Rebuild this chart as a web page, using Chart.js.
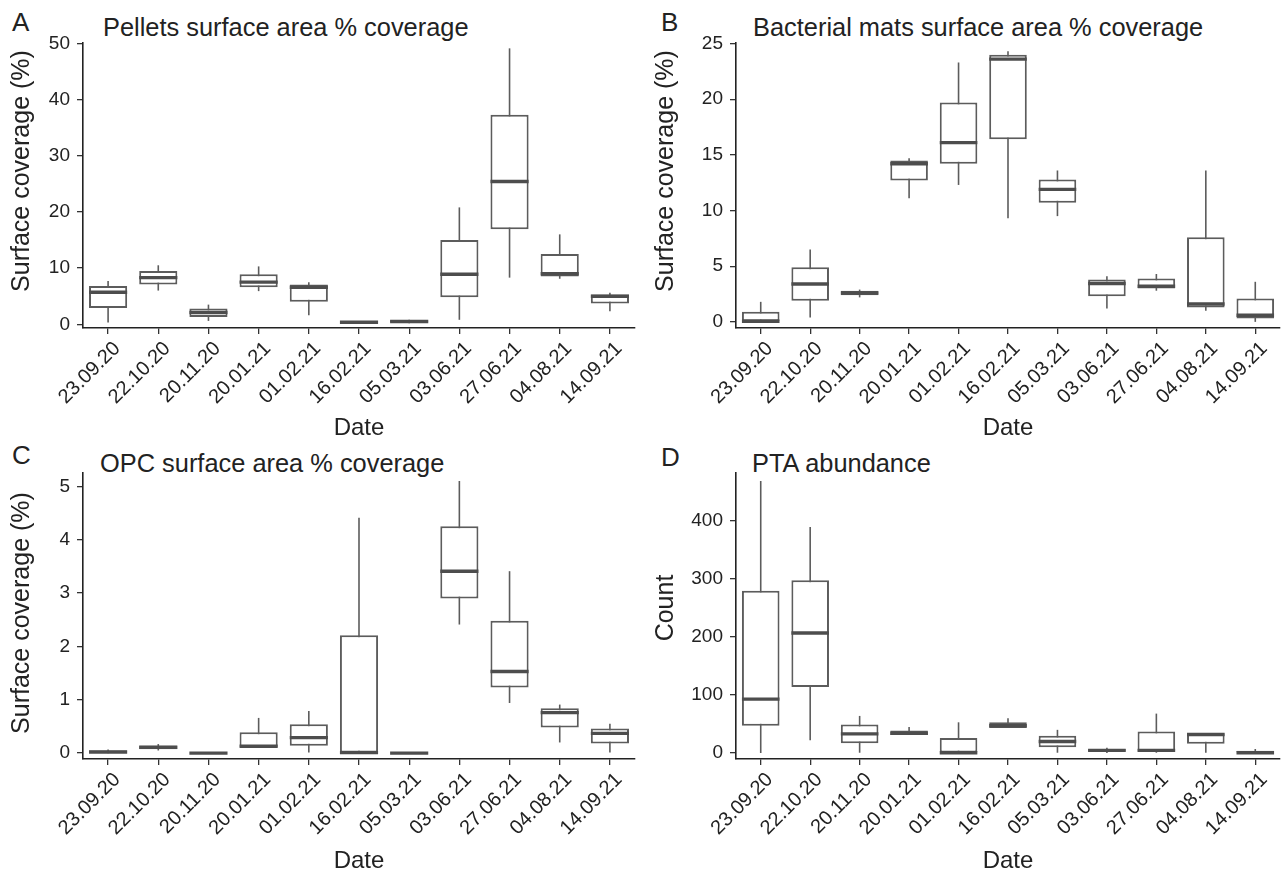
<!DOCTYPE html>
<html>
<head>
<meta charset="utf-8">
<script src="https://cdn.jsdelivr.net/npm/chart.js@4/dist/chart.umd.min.js"></script>
<style>
    body { margin: 0; background: #fff; overflow: hidden; width: 1283px; height: 871px; position: relative; font-family: "Liberation Sans", Arial, Helvetica, sans-serif; color: #222; }
    canvas { position: absolute; }
    .letter { position: absolute; font-size: 26px; line-height: 1; }
    .title { position: absolute; font-size: 25.4px; line-height: 1; white-space: nowrap; }
    .ytitle { position: absolute; font-size: 25px; line-height: 1; white-space: nowrap; transform: translate(-50%, -50%) rotate(-90deg); z-index: 2; }
</style>
</head>
<body>
<div class="letter" style="left:12px; top:9px;">A</div>
<div class="title" style="left:103px; top:15px;">Pellets surface area % coverage</div>
<div class="ytitle" style="left:20px; top:171px;">Surface coverage (%)</div>
<div class="letter" style="left:661px; top:9px;">B</div>
<div class="title" style="left:753px; top:15px;">Bacterial mats surface area % coverage</div>
<div class="ytitle" style="left:664px; top:171px;">Surface coverage (%)</div>
<div class="letter" style="left:12px; top:442px;">C</div>
<div class="title" style="left:100px; top:451px;">OPC surface area % coverage</div>
<div class="ytitle" style="left:20px; top:613px;">Surface coverage (%)</div>
<div class="letter" style="left:661px; top:444px;">D</div>
<div class="title" style="left:752px; top:451px;">PTA abundance</div>
<div class="ytitle" style="left:664px; top:608px;">Count</div>

<canvas id="chartA" style="left:0; top:0;" width="641" height="443"></canvas>
<canvas id="chartB" style="left:640px; top:0;" width="643" height="443"></canvas>
<canvas id="chartC" style="left:0; top:430px;" width="641" height="446"></canvas>
<canvas id="chartD" style="left:640px; top:430px;" width="643" height="446"></canvas>

<script>
const dates = ["23.09.20", "22.10.20", "20.11.20", "20.01.21", "01.02.21", "16.02.21",
               "05.03.21", "03.06.21", "27.06.21", "04.08.21", "14.09.21"];

// A - pellets (%)
const pelletsMin = [0.3, 6.0, 0.6, 5.9, 1.6, 0.2, 0.2, 0.8, 8.3, 8.1, 2.3];
const pelletsQ1  = [2.9, 7.1, 1.3, 6.6, 4.0, 0.25, 0.3, 4.8, 16.9, 8.5, 3.7];
const pelletsMed = [5.7, 8.3, 2.1, 7.5, 6.6, 0.35, 0.5, 8.9, 25.4, 9.0, 5.0];
const pelletsQ3  = [6.8, 9.5, 2.8, 8.9, 7.1, 0.45, 0.7, 15.0, 37.3, 12.5, 5.3];
const pelletsMax = [7.7, 10.5, 3.5, 10.3, 7.5, 0.5, 0.8, 20.8, 49.1, 16.0, 5.6];
const pelletsTicks = [0, 10, 20, 30, 40, 50];

// B - bacterial mats (%)
const matsMin = [0, 0.4, 2.2, 11.1, 12.3, 9.3, 9.5, 1.2, 2.8, 1.0, 0];
const matsQ1  = [0, 1.9, 2.4, 12.7, 14.2, 16.4, 10.7, 2.3, 3.0, 1.3, 0.3];
const matsMed = [0.05, 3.4, 2.6, 14.2, 16.1, 23.6, 11.9, 3.45, 3.2, 1.6, 0.6];
const matsQ3  = [0.9, 4.9, 2.8, 14.5, 19.7, 24.0, 12.8, 3.8, 3.9, 7.6, 2.1];
const matsMax = [1.8, 6.5, 2.9, 14.7, 23.3, 24.3, 13.6, 4.1, 4.3, 13.6, 3.6];
const matsTicks = [0, 5, 10, 15, 20, 25];

// C - OPC (%)
const opcMin = [0, 0.05, 0, 0.1, 0.01, 0, 0, 2.41, 0.94, 0.2, 0.01];
const opcQ1  = [0, 0.075, 0, 0.11, 0.14, 0, 0, 2.9, 1.23, 0.48, 0.18];
const opcMed = [0.02, 0.11, 0, 0.13, 0.29, 0.01, 0, 3.41, 1.53, 0.76, 0.37];
const opcQ3  = [0.05, 0.14, 0.01, 0.39, 0.54, 2.21, 0.01, 4.25, 2.48, 0.84, 0.46];
const opcMax = [0.07, 0.17, 0.02, 0.66, 0.79, 4.41, 0.02, 5.1, 3.41, 0.91, 0.55];
const opcTicks = [0, 1, 2, 3, 4, 5];

// D - PTA counts
const ptaMin = [0, 22, 0.5, 31, 0, 43, 0.5, 0, 0.5, 0.5, 0];
const ptaQ1  = [47, 114, 17, 31, 0, 43, 10, 2, 2, 16, 0];
const ptaMed = [93, 207, 33, 34, 0.5, 47, 20, 4.5, 4.5, 32, 0.5];
const ptaQ3  = [280, 298, 49, 39, 26, 53, 30, 7, 37, 34, 4];
const ptaMax = [469, 390, 64, 45, 53, 60, 40, 9, 68, 34, 7];
const ptaTicks = [0, 100, 200, 300, 400];

const FONT = "'Liberation Sans', Arial, Helvetica, sans-serif";

// whiskers go under the boxes, medians over them
const boxPlotLines = {
    id: "boxPlotLines",
    beforeDatasetsDraw(chart, args, opts) {
        const ctx = chart.ctx;
        const x = chart.scales.x, y = chart.scales.y;
        ctx.save();
        ctx.strokeStyle = "#5c5c5c";
        ctx.lineWidth = 1.6;
        opts.min.forEach((v, i) => {
            const px = x.getPixelForValue(i);
            ctx.beginPath();
            ctx.moveTo(px, y.getPixelForValue(v));
            ctx.lineTo(px, y.getPixelForValue(opts.max[i]));
            ctx.stroke();
        });
        ctx.restore();
    },
    afterDatasetsDraw(chart, args, opts) {
        const ctx = chart.ctx;
        const y = chart.scales.y;
        const bars = chart.getDatasetMeta(0).data;
        ctx.save();
        ctx.strokeStyle = "#4d4d4d";
        ctx.lineWidth = 3.4;
        opts.median.forEach((v, i) => {
            const bar = bars[i];
            const py = y.getPixelForValue(v);
            ctx.beginPath();
            ctx.moveTo(bar.x - bar.width / 2, py);
            ctx.lineTo(bar.x + bar.width / 2, py);
            ctx.stroke();
        });
        ctx.restore();
    }
};

function makeChart(id, q1, q3, med, min, max, yMin, yMax, tickVals, yWidth, xHeight, padRight) {
    const ctx = document.getElementById(id).getContext("2d");
    return new Chart(ctx, {
        type: "bar",
        data: {
            labels: dates,
            datasets: [{
                data: dates.map((d, i) => [q1[i], q3[i]]),
                backgroundColor: "#ffffff",
                borderColor: "#5c5c5c",
                borderWidth: 2,
                borderSkipped: false,
                barPercentage: 0.76,
                categoryPercentage: 1.0
            }]
        },
        options: {
            responsive: false,
            animation: false,
            layout: { padding: { top: 43, right: padRight, left: 0, bottom: 0 } },
            plugins: {
                legend: { display: false },
                tooltip: { enabled: false },
                boxPlotLines: { min: min, max: max, median: med }
            },
            scales: {
                x: {
                    type: "category",
                    offset: true,
                    grid: { display: true, offset: false, drawOnChartArea: false, drawTicks: true, tickLength: 6, color: "#333", lineWidth: 1.3 },
                    border: { display: true, color: "#222", width: 1.6 },
                    ticks: { autoSkip: false, maxRotation: 45, minRotation: 45, padding: 3, labelOffset: 9, color: "#222", font: { family: FONT, size: 20 } },
                    title: { display: true, text: "Date", color: "#222", font: { family: FONT, size: 24 }, padding: 0 },
                    afterFit: (scale) => { scale.height = xHeight; }
                },
                y: {
                    min: yMin,
                    max: yMax,
                    afterBuildTicks: (scale) => { scale.ticks = tickVals.map(v => ({ value: v })); },
                    grid: { display: true, drawOnChartArea: false, drawTicks: true, tickLength: 6, color: "#333", lineWidth: 1.3 },
                    border: { display: true, color: "#222", width: 1.6 },
                    ticks: { padding: 7, color: "#222", font: { family: FONT, size: 19 } },
                    afterFit: (scale) => { scale.width = yWidth; }
                }
            }
        },
        plugins: [boxPlotLines]
    });
}

document.addEventListener("DOMContentLoaded", () => {
    makeChart("chartA", pelletsQ1, pelletsQ3, pelletsMed, pelletsMin, pelletsMax,
        -0.66, 50.05, pelletsTicks, 83, 115, 6);
    makeChart("chartB", matsQ1, matsQ3, matsMed, matsMin, matsMax,
        -0.55, 25.05, matsTicks, 96, 115, 3);
    makeChart("chartC", opcQ1, opcQ3, opcMed, opcMin, opcMax,
        -0.11, 5.25, opcTicks, 83, 117, 6);
    makeChart("chartD", ptaQ1, ptaQ3, ptaMed, ptaMin, ptaMax,
        -10.3, 483, ptaTicks, 96, 117, 3);
});
</script>
</body>
</html>
